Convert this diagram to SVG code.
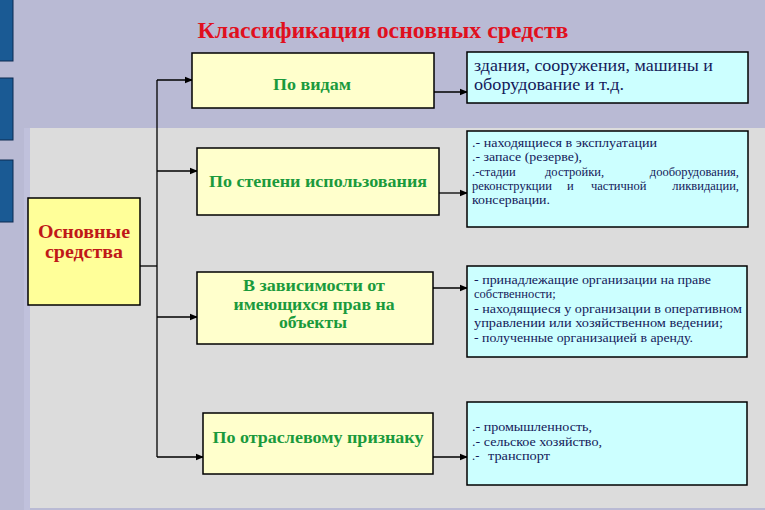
<svg xmlns="http://www.w3.org/2000/svg" width="765" height="510" viewBox="0 0 765 510">
<style>
text{font-family:'Liberation Serif',serif}
.box{stroke:#000;stroke-width:1.5}
.cat{fill:#ffffcc}
.det{fill:#ccffff}
.g{font-weight:bold;font-size:17px;fill:#1a9a3c;text-anchor:middle}
.d{font-size:12.5px;fill:#141a5a}
.conn{stroke:#000;stroke-width:1.3;fill:none}
</style>
<defs>
<marker id="ah" markerWidth="8" markerHeight="8" refX="7" refY="4" orient="auto" markerUnits="userSpaceOnUse">
<path d="M0,0.8 L8,4 L0,7.2 z" fill="#000"/>
</marker>
</defs>
<rect x="0" y="0" width="765" height="510" fill="#b9bad4"/>
<rect x="24" y="128" width="6" height="382" fill="#c0c1dc"/>
<rect x="30" y="128" width="735" height="380" fill="#dcdcdc"/>
<g fill="#1a5a94" stroke="#0c2a50" stroke-width="1">
<rect x="-1" y="-1" width="14" height="62"/>
<rect x="-1" y="78" width="14" height="62"/>
<rect x="-1" y="160" width="14" height="62"/>
</g>
<text x="383" y="38" font-weight="bold" font-size="23" fill="#e0101e" text-anchor="middle" textLength="371" lengthAdjust="spacingAndGlyphs">Классификация основных средств</text>

<g id="connectors">
<line class="conn" x1="140" y1="266" x2="157" y2="266"/>
<line class="conn" x1="157" y1="80" x2="157" y2="457"/>
<line class="conn" x1="157" y1="80" x2="192" y2="80" marker-end="url(#ah)"/>
<line class="conn" x1="157" y1="171" x2="197" y2="171" marker-end="url(#ah)"/>
<line class="conn" x1="157" y1="317" x2="197" y2="317" stroke-width="2" marker-end="url(#ah)"/>
<line class="conn" x1="157" y1="457" x2="203" y2="457" marker-end="url(#ah)"/>
<line class="conn" x1="434" y1="92" x2="467" y2="92" stroke-width="2.2" marker-end="url(#ah)"/>
<line class="conn" x1="439" y1="193" x2="467" y2="193" marker-end="url(#ah)"/>
<line class="conn" x1="433" y1="288" x2="467" y2="288" marker-end="url(#ah)"/>
<line class="conn" x1="433" y1="457" x2="467" y2="457" marker-end="url(#ah)"/>
</g>

<g id="main">
<rect class="box" x="28" y="198" width="112" height="107" fill="#ffff99"/>
<text font-weight="bold" font-size="19" fill="#c01818" text-anchor="middle"><tspan x="84" y="238" textLength="92" lengthAdjust="spacingAndGlyphs">Основные</tspan><tspan x="84" y="258" textLength="78" lengthAdjust="spacingAndGlyphs">средства</tspan></text>
</g>

<g id="by-type">
<rect class="box cat" x="192" y="53" width="242" height="55"/>
<text class="g" x="312" y="90" textLength="78" lengthAdjust="spacingAndGlyphs">По видам</text>
</g>
<g id="by-type-detail">
<rect class="box det" x="467" y="52" width="281" height="51"/>
<text font-size="17" fill="#141a5a"><tspan x="474" y="71" textLength="239" lengthAdjust="spacingAndGlyphs">здания, сооружения, машины и</tspan><tspan x="474" y="90" textLength="150" lengthAdjust="spacingAndGlyphs">оборудование и т.д.</tspan></text>
</g>

<g id="by-use">
<rect class="box cat" x="197" y="148" width="242" height="67"/>
<text class="g" x="318" y="187" textLength="218" lengthAdjust="spacingAndGlyphs">По степени использования</text>
</g>
<g id="by-use-detail">
<rect class="box det" x="467" y="131" width="281" height="96"/>
<text class="d"><tspan x="472" y="147" textLength="185" lengthAdjust="spacingAndGlyphs">.- находящиеся в эксплуатации</tspan><tspan x="472" y="161" textLength="110" lengthAdjust="spacingAndGlyphs">.- запасе (резерве),</tspan></text>
<text class="d" y="176"><tspan x="472">.-стадии</tspan><tspan x="545">достройки,</tspan><tspan x="739" text-anchor="end">дооборудования,</tspan></text>
<text class="d" y="190"><tspan x="472">реконструкции</tspan><tspan x="567">и</tspan><tspan x="591">частичной</tspan><tspan x="739" text-anchor="end">ликвидации,</tspan></text>
<text class="d" x="472" y="204" textLength="78" lengthAdjust="spacingAndGlyphs">консервации.</text>
</g>

<g id="by-rights">
<rect class="box cat" x="197" y="272" width="236" height="72"/>
<text class="g" font-size="18"><tspan x="314" y="291" textLength="142" lengthAdjust="spacingAndGlyphs">В зависимости от</tspan><tspan x="314" y="309.5" textLength="161" lengthAdjust="spacingAndGlyphs">имеющихся прав на</tspan><tspan x="313" y="328" textLength="68" lengthAdjust="spacingAndGlyphs">объекты</tspan></text>
</g>
<g id="by-rights-detail">
<rect class="box det" x="467" y="266" width="280" height="91"/>
<text class="d"><tspan x="474" y="284" textLength="237" lengthAdjust="spacingAndGlyphs">- принадлежащие организации на праве</tspan><tspan x="474" y="298">собственности;</tspan><tspan x="474" y="313" textLength="268" lengthAdjust="spacingAndGlyphs">- находящиеся у организации в оперативном</tspan><tspan x="474" y="327" textLength="249" lengthAdjust="spacingAndGlyphs">управлении или хозяйственном ведении;</tspan><tspan x="474" y="342" textLength="219" lengthAdjust="spacingAndGlyphs">- полученные организацией в аренду.</tspan></text>
</g>

<g id="by-industry">
<rect class="box cat" x="203" y="413" width="230" height="61"/>
<text class="g" x="318" y="443" textLength="211" lengthAdjust="spacingAndGlyphs">По отраслевому признаку</text>
</g>
<g id="by-industry-detail">
<rect class="box det" x="467" y="402" width="280" height="83"/>
<text class="d" font-size="13.5"><tspan x="472" y="431" textLength="120" lengthAdjust="spacingAndGlyphs">.- промышленность,</tspan><tspan x="472" y="446" textLength="130" lengthAdjust="spacingAndGlyphs">.- сельское хозяйство,</tspan><tspan x="472" y="460">.-</tspan><tspan x="488" y="460" textLength="62" lengthAdjust="spacingAndGlyphs">транспорт</tspan></text>
</g>
</svg>
